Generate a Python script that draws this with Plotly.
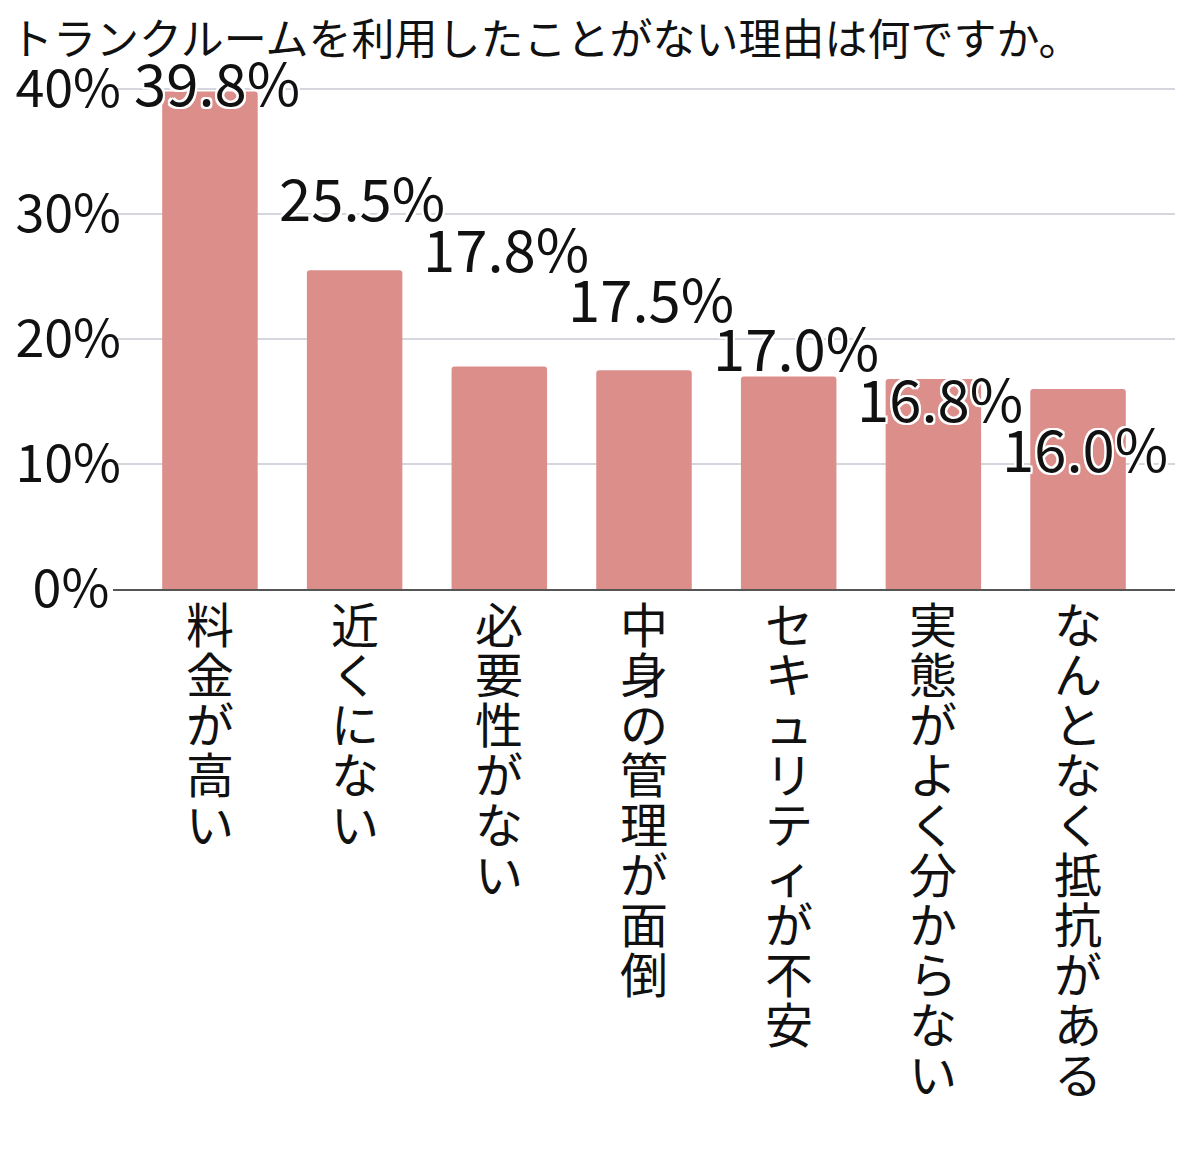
import plotly.graph_objects as go

title = 'トランクルームを利用したことがない理由は何ですか。'
reasons = ['料金が高い', '近くにない', '必要性がない', '中身の管理が面倒',
           'セキュリティが不安', '実態がよく分からない', 'なんとなく抵抗がある']
shares = [39.8, 25.5, 17.8, 17.5, 17.0, 16.8, 16.0]
y_ticks = [0, 10, 20, 30, 40]
# the original centres its tick labels, so "0%" gets a little padding on the right
y_tick_labels = ['0%\u00a0', '10%', '20%', '30%', '40%']

# pixel nudges so the value labels step down like in the original
label_shift = [11, 74, 120, 73, 31, -18, -58]

FONT = 'Noto Sans CJK JP'
BAR = '#DC8E8B'
OUTLINE = ', '.join(f'{dx}px {dy}px 0 #fff' for dx in (-2, 0, 2) for dy in (-2, 0, 2))

# the page body has an 8px margin, so the figure is a bit smaller than the window
W, H = 1184, 1134

fig = go.Figure(go.Bar(x=reasons, y=shares, marker_color=BAR, marker_line_width=0))

# value labels
for r, v, s in zip(reasons, shares, label_shift):
    fig.add_annotation(x=r, y=v, text=f'{v:.1f}%', showarrow=False,
                       yanchor='middle', xshift=7, yshift=s,
                       font=dict(family=FONT, size=58, color='#111', shadow=OUTLINE))

# category labels, written top to bottom one character at a time
for r in reasons:
    for k, ch in enumerate(r):
        fig.add_annotation(x=r, y=0, text=ch, showarrow=False,
                           yanchor='middle', yshift=-(33 + 50 * k),
                           font=dict(family=FONT, size=48, color='#111'))

fig.update_layout(
    width=W, height=H, autosize=False,
    paper_bgcolor='white', plot_bgcolor='white',
    margin=dict(l=105, r=17, t=76, b=553, autoexpand=False),
    bargap=0.34, barcornerradius=3, showlegend=False,
    font=dict(family=FONT, color='#111'),
    title=dict(text=title, x=2 / W, xanchor='left', y=1 - 32 / H, yanchor='middle',
               font=dict(family=FONT, size=43, color='#111')),
)
fig.update_xaxes(range=[-0.67, 6.67], showticklabels=False, ticks='', automargin=False,
                 showline=True, linecolor='#555', linewidth=2, showgrid=False)
fig.update_yaxes(range=[0, 40.4], tickvals=y_ticks, ticktext=y_tick_labels, automargin=False,
                 tickfont=dict(family=FONT, size=52, color='#111'), ticklabelstandoff=-9,
                 showgrid=True, gridcolor='#D6D6DE', gridwidth=2,
                 zeroline=False, showline=False, ticks='')

fig.write_html("out.html")
